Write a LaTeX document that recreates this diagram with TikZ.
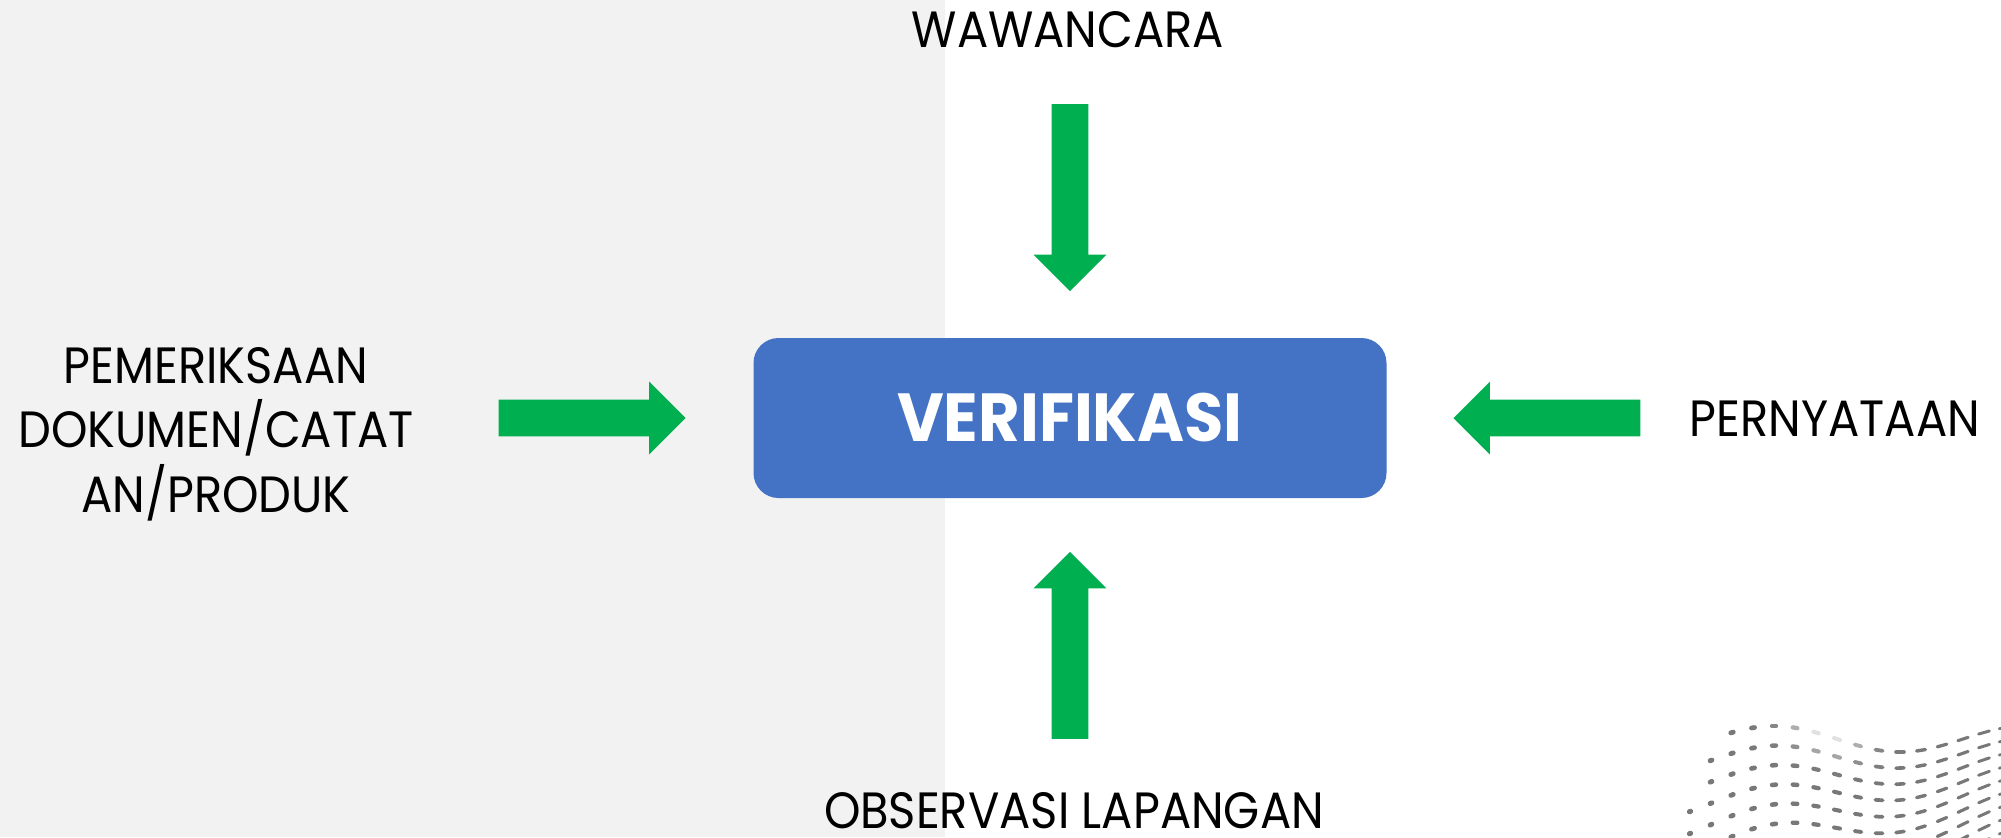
\documentclass[tikz,border=0pt]{standalone}
\usepackage{fontspec}
\usepackage{xcolor}
\usetikzlibrary{positioning}
\usetikzlibrary{shapes.arrows}
\newfontfamily\gothfont[FakeStretch=0.91]{Poppins}
\newfontfamily\headfont[FakeStretch=0.94]{Poppins}
\definecolor{panelgray}{RGB}{242,242,242}
\definecolor{verifblue}{RGB}{68,114,196}
\definecolor{arrowgreen}{RGB}{0,176,80}
\definecolor{dotgray}{RGB}{120,120,120}
\tikzset{%
  source/.style={font=\gothfont\fontsize{25.5}{32.25}\selectfont,text=black,inner sep=0pt},
  verif/.style={rounded corners=12.5pt,fill=verifblue,minimum width=316.5pt,minimum height=80pt,
    text=white,font=\headfont\bfseries\fontsize{34}{40}\selectfont},
  bigarrow/.style={single arrow,fill=arrowgreen,draw=none,minimum height=93.5pt,minimum width=36pt,
    single arrow head extend=9pt,inner sep=9pt,anchor=tip},
  dotmark/.style={dotgray,line cap=round}
}

\begin{document}
\begin{tikzpicture}[x=0.5pt,y=-0.5pt]
  \useasboundingbox (0,0) rectangle (2001,837);
  \fill[panelgray] (0,0) rectangle (945,837);

  % wavy dots in the corner
  \begin{scope}
    \clip (0,0) rectangle (2001,837);
    \foreach \i in {0,...,15}{
      \foreach \j in {0,...,8}{
        \pgfmathsetmacro\dx{1690+21*\i}
        \pgfmathsetmacro\dy{739-13*sin((\i-1)*30)+\j*(22-0.6*\i)}
        \pgfmathsetmacro\m{(-6.8*cos((\i-1)*30)-0.6*\j)/21}
        \pgfmathsetmacro\d{0.5+0.35*\i}
        \pgfmathsetmacro\lw{2.6-0.08*\i}
        \pgfmathsetmacro\op{1-0.85*exp(-((\i-6.5)^2/3+(\j)^2/1.2))}
        \pgfmathsetmacro\vis{\dx>1720-11*\j ? 1 : 0}
        \ifdim\vis pt>0.5pt
          \draw[dotmark,line width=\lw pt,opacity=\op] (\dx-\d,\dy-\d*\m) -- (\dx+\d,\dy+\d*\m);
        \fi
      }
    }
  \end{scope}

  \node[verif] (verifbox) at (1070,418) {VERIFIKASI};

  \node[bigarrow,shape border rotate=270] (arrtop) at ([yshift=23pt]verifbox.north) {};
  \node[bigarrow,shape border rotate=90] (arrbottom) at ([yshift=-26.5pt]verifbox.south) {};
  \node[bigarrow] (arrleft) at ([xshift=-33.5pt]verifbox.west) {};
  \node[bigarrow,shape border rotate=180] (arrright) at ([xshift=33pt]verifbox.east) {};

  \node[source,anchor=base] (wawancara) at (1068,47) {WAWANCARA};
  \node[source,anchor=base] (pernyataan) at (1835,436) {PERNYATAAN};
  \node[source,anchor=base] (observasi) at (1074,828) {OBSERVASI LAPANGAN};
  \node[source,align=center] (pemeriksaan) at (216,434) {PEMERIKSAAN\\DOKUMEN/CATAT\\AN/PRODUK};
\end{tikzpicture}
\end{document}
